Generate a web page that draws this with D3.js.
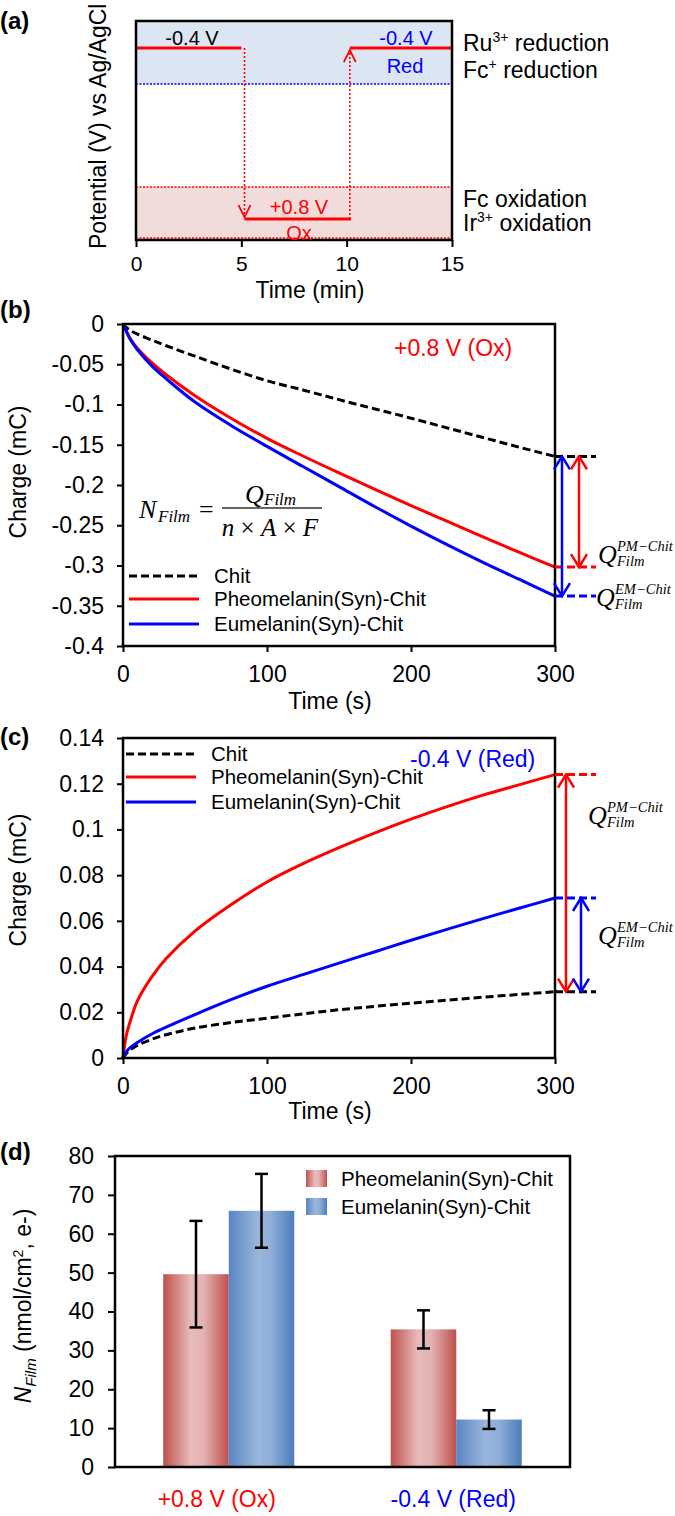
<!DOCTYPE html>
<html><head><meta charset="utf-8">
<script src="https://cdn.jsdelivr.net/npm/d3@7"></script>
<style>body{margin:0;background:#fff}</style>
</head><body>
<svg id="c" width="675" height="1516"></svg>
<script>
// ---------------- DATA ----------------
// (a) potential program
const aTimeTicks = [0, 5, 10, 15];
const aSteps = [[0, 5, -0.4], [5.15, 10.2, 0.8], [10.15, 15, -0.4]];
const aTransitions = [[5.15, -0.4, 0.8], [10.15, 0.8, -0.4]];
const aBandRed = [-0.59, -0.147];
const aBandOx = [0.575, 0.947];
const aDomain = [-0.59, 0.947];

// (b),(c) charge curves
const tSec = [0, 2, 5, 10, 20, 30, 50, 75, 100, 125, 150, 175, 200, 225, 250, 275, 300];
const bChit = [0, -0.004, -0.008, -0.0125, -0.020, -0.027, -0.040, -0.056, -0.0705, -0.082, -0.094, -0.1055, -0.117, -0.129, -0.141, -0.153, -0.1645];
const bPheo = [0, -0.008, -0.018, -0.030, -0.048, -0.063, -0.089, -0.117, -0.142, -0.164, -0.185, -0.2055, -0.2255, -0.245, -0.2645, -0.2835, -0.302];
const bEu = [0, -0.008, -0.019, -0.032, -0.052, -0.068, -0.097, -0.126, -0.152, -0.177, -0.202, -0.227, -0.251, -0.274, -0.296, -0.317, -0.338];
const cChit = [0, 0.0018, 0.0035, 0.0055, 0.0082, 0.0102, 0.0131, 0.0155, 0.0174, 0.0193, 0.0211, 0.0226, 0.024, 0.0253, 0.0266, 0.0278, 0.029];
const cPheo = [0, 0.009, 0.016, 0.025, 0.0355, 0.0435, 0.0555, 0.067, 0.077, 0.085, 0.092, 0.0985, 0.1045, 0.110, 0.115, 0.1195, 0.124];
const cEu = [0, 0.0025, 0.0045, 0.0068, 0.0105, 0.0135, 0.019, 0.0255, 0.0314, 0.0365, 0.0415, 0.0465, 0.0515, 0.0563, 0.061, 0.0655, 0.070];
const secTicks = [0, 100, 200, 300];
const bTicks = [0, -0.05, -0.1, -0.15, -0.2, -0.25, -0.3, -0.35, -0.4];
const cTicks = [0, 0.02, 0.04, 0.06, 0.08, 0.1, 0.12, 0.14];
const seriesNames = ["Chit", "Pheomelanin(Syn)-Chit", "Eumelanin(Syn)-Chit"];

// (d) bars
const dCats = ["+0.8 V (Ox)", "-0.4 V (Red)"];
const dSeries = ["Pheomelanin(Syn)-Chit", "Eumelanin(Syn)-Chit"];
const dPheo = [49.6, 35.4];
const dPheoErr = [13.7, 4.9];
const dEu = [65.9, 12.2];
const dEuErr = [9.5, 2.4];
const dTicks = [0, 10, 20, 30, 40, 50, 60, 70, 80];

// ---------------- HELPERS ----------------
const SANS = "'Liberation Sans', Arial, Helvetica, sans-serif";
const SERIF = "'Liberation Serif', 'Times New Roman', serif";
const RED = "#ff0000", BLUE = "#0000ff";
const svg = d3.select("#c");
svg.append("rect").attr("width", 675).attr("height", 1516).attr("fill", "#fff");

function txt(g, x, y, s, o = {}) {
  const t = g.append("text").attr("x", x).attr("y", y)
    .attr("font-family", o.family || SANS).attr("font-size", o.size || 20)
    .attr("fill", o.fill || "#000");
  if (s !== null) t.text(s);
  if (o.anchor) t.attr("text-anchor", o.anchor);
  if (o.weight) t.attr("font-weight", o.weight);
  if (o.style) t.attr("font-style", o.style);
  if (o.dy) t.attr("dy", o.dy);
  if (o.transform) t.attr("transform", o.transform);
  return t;
}
function chevron(g, x, y, dir, color, w = 7, h = 12, sw = 2.5) {
  g.append("path")
    .attr("d", `M${x - w},${y - dir * h}L${x},${y}L${x + w},${y - dir * h}`)
    .attr("fill", "none").attr("stroke", color).attr("stroke-width", sw);
}
function styleAxis(ax, size) {
  ax.select(".domain").remove();
  ax.selectAll(".tick line").attr("stroke", "#000").attr("stroke-width", 2);
  ax.selectAll(".tick text").attr("font-family", SANS).attr("font-size", size).attr("fill", "#000");
}
function frame(g, x0, y0, x1, y1) {
  g.append("rect").attr("x", x0).attr("y", y0).attr("width", x1 - x0).attr("height", y1 - y0)
    .attr("fill", "none").attr("stroke", "#000").attr("stroke-width", 2.5);
}
const fmt = d => (d === 0 ? "0" : String(+d.toFixed(2)));

// ---------------- PANEL (a) ----------------
const gA = svg.append("g");
const xA = d3.scaleLinear().domain([0, 15]).range([136, 452]);
const yA = d3.scaleLinear().domain(aDomain).range([21, 240]);
gA.append("rect").attr("x", xA(0)).attr("width", xA(15) - xA(0))
  .attr("y", yA(aBandRed[0])).attr("height", yA(aBandRed[1]) - yA(aBandRed[0])).attr("fill", "#dce6f2");
gA.append("rect").attr("x", xA(0)).attr("width", xA(15) - xA(0))
  .attr("y", yA(aBandOx[0])).attr("height", yA(aBandOx[1]) - yA(aBandOx[0])).attr("fill", "#f2dcdb");
gA.append("line").attr("x1", xA(0)).attr("x2", xA(15)).attr("y1", yA(aBandRed[1])).attr("y2", yA(aBandRed[1]))
  .attr("stroke", BLUE).attr("stroke-width", 1.5).attr("stroke-dasharray", "2,1.5");
[aBandOx[0], aBandOx[1]].forEach(v => {
  const yy = yA(v) - (v === aBandOx[1] ? 2 : 0);
  gA.append("line").attr("x1", xA(0)).attr("x2", xA(15)).attr("y1", yy).attr("y2", yy)
    .attr("stroke", RED).attr("stroke-width", 1.5).attr("stroke-dasharray", "2,1.5");
});
aSteps.forEach(([t0, t1, v]) => {
  gA.append("line").attr("x1", xA(t0)).attr("x2", xA(t1)).attr("y1", yA(v)).attr("y2", yA(v))
    .attr("stroke", RED).attr("stroke-width", 3);
});
aTransitions.forEach(([t, v0, v1]) => {
  const dir = v1 > v0 ? 1 : -1;
  const yEnd = yA(v1) - dir * 2;
  gA.append("line").attr("x1", xA(t)).attr("x2", xA(t)).attr("y1", yA(v0)).attr("y2", yEnd)
    .attr("stroke", RED).attr("stroke-width", 1.6).attr("stroke-dasharray", "2,2");
  chevron(gA, xA(t), yEnd, dir, RED, 6, 12, 1.8);
});
frame(gA, xA(0), yA(aDomain[0]), xA(15), yA(aDomain[1]));
const axA = gA.append("g").attr("transform", `translate(0,${yA(aDomain[1])})`)
  .call(d3.axisBottom(xA).tickValues(aTimeTicks).tickSize(7).tickPadding(9));
styleAxis(axA, 21);
txt(gA, 0, 29, "(a)", { size: 24, weight: "bold" });
txt(gA, 310, 298, "Time (min)", { size: 23, anchor: "middle" });
txt(gA, 0, 0, "Potential (V) vs Ag/AgCl", { size: 23, transform: "translate(106,249) rotate(-90)" });
txt(gA, 192, 45, "-0.4 V", { size: 20, anchor: "middle" });
txt(gA, 406, 45, "-0.4 V", { size: 20, anchor: "middle", fill: BLUE });
txt(gA, 405, 73, "Red", { size: 20, anchor: "middle", fill: BLUE });
txt(gA, 299, 214, "+0.8 V", { size: 20, anchor: "middle", fill: RED });
txt(gA, 299, 240, "Ox", { size: 20, anchor: "middle", fill: RED });
function supLabel(y, a, sup, b) {
  const t = txt(gA, 463, y, null, { size: 23 });
  t.append("tspan").text(a);
  t.append("tspan").text(sup).attr("font-size", 14).attr("dy", -9);
  t.append("tspan").text(b).attr("dy", 9);
}
supLabel(51, "Ru", "3+", " reduction");
supLabel(78, "Fc", "+", " reduction");
txt(gA, 463, 207, "Fc oxidation", { size: 23 });
supLabel(231, "Ir", "3+", " oxidation");

// ---------------- shared line panel ----------------
function linePanel(cfg) {
  const g = svg.append("g");
  const x = d3.scaleLinear().domain([0, 300]).range([123, 555]);
  const y = d3.scaleLinear().domain(cfg.domain).range([cfg.bottom, cfg.top]);
  const line = d3.line().x((d, i) => x(tSec[i])).y(d => y(d)).curve(d3.curveCatmullRom.alpha(0.5));
  const styles = [
    { c: "#000", dash: "8,4" }, { c: RED, dash: null }, { c: BLUE, dash: null }
  ];
  cfg.series.forEach((s, i) => {
    const p = g.append("path").attr("d", line(s)).attr("fill", "none")
      .attr("stroke", styles[i].c).attr("stroke-width", 3);
    if (styles[i].dash) p.attr("stroke-dasharray", styles[i].dash);
  });
  frame(g, x(0), cfg.top, x(300), cfg.bottom);
  const axX = g.append("g").attr("transform", `translate(0,${cfg.bottom})`)
    .call(d3.axisBottom(x).tickValues(secTicks).tickSize(6).tickPadding(14));
  styleAxis(axX, 23);
  const axY = g.append("g").attr("transform", `translate(${x(0)},0)`)
    .call(d3.axisLeft(y).tickValues(cfg.ticks).tickFormat(fmt).tickSize(6).tickPadding(13));
  styleAxis(axY, 23);
  cfg.legendY.forEach((ly, i) => {
    const l = g.append("line").attr("x1", cfg.legendX[0]).attr("x2", cfg.legendX[1]).attr("y1", ly).attr("y2", ly)
      .attr("stroke", styles[i].c).attr("stroke-width", 3);
    if (styles[i].dash) l.attr("stroke-dasharray", styles[i].dash);
    txt(g, cfg.legendX[2], ly, seriesNames[i], { size: 20.5, dy: "0.35em" });
  });
  cfg.series.forEach((s, i) => {
    g.append("line").attr("x1", x(300)).attr("x2", x(300) + 41).attr("y1", y(s[s.length - 1])).attr("y2", y(s[s.length - 1]))
      .attr("stroke", styles[i].c).attr("stroke-width", 3).attr("stroke-dasharray", "8,4");
  });
  cfg.arrows.forEach(a => {
    const base = cfg.series[0][cfg.series[0].length - 1];
    const s = cfg.series[a.idx];
    const end = s[s.length - 1];
    const y0 = y(base), y1 = y(end);
    const dir = y1 > y0 ? 1 : -1;
    g.append("line").attr("x1", a.x).attr("x2", a.x).attr("y1", y0).attr("y2", y1)
      .attr("stroke", styles[a.idx].c).attr("stroke-width", 2.5);
    chevron(g, a.x, y0, -dir, styles[a.idx].c, 8, 13, 2.5);
    chevron(g, a.x, y1, dir, styles[a.idx].c, 8, 13, 2.5);
  });
  cfg.qLabels.forEach(q => {
    txt(g, q.x, q.y, "Q", { family: SERIF, style: "italic", size: 26 });
    txt(g, q.x + 19, q.y - 12, q.sup, { family: SERIF, style: "italic", size: 14.5 });
    txt(g, q.x + 19, q.y + 3, "Film", { family: SERIF, style: "italic", size: 14.5 });
  });
  txt(g, 0, cfg.tagY, cfg.tag, { size: 24, weight: "bold" });
  txt(g, 330, cfg.titleY, "Time (s)", { size: 23, anchor: "middle" });
  txt(g, 0, 0, "Charge (mC)", { size: 23, anchor: "middle", transform: `translate(26,${cfg.ylabY}) rotate(-90)` });
  txt(g, cfg.note.x, cfg.note.y, cfg.note.s, { size: 23, fill: cfg.note.c });
  return { g, x, y };
}

// ---------------- PANEL (b) ----------------
const pb = linePanel({
  domain: [-0.4, 0], top: 324, bottom: 646, ticks: bTicks,
  series: [bChit, bPheo, bEu],
  legendY: [576, 599, 624], legendX: [129, 199, 214],
  arrows: [{ idx: 2, x: 562 }, { idx: 1, x: 579 }],
  qLabels: [{ x: 598, y: 563, sup: "PM\u2212Chit" }, { x: 596, y: 606, sup: "EM\u2212Chit" }],
  tag: "(b)", tagY: 318, titleY: 709, ylabY: 472,
  note: { x: 394, y: 356, s: "+0.8 V (Ox)", c: RED }
});
{
  const g = pb.g;
  const f = { family: SERIF, style: "italic" };
  txt(g, 139, 518, "N", { ...f, size: 26 });
  txt(g, 158, 522, "Film", { ...f, size: 17 });
  txt(g, 199, 518, "=", { family: SERIF, size: 26 });
  g.append("line").attr("x1", 222).attr("x2", 322).attr("y1", 508).attr("y2", 508).attr("stroke", "#333").attr("stroke-width", 1.3);
  txt(g, 245, 503, "Q", { ...f, size: 26 });
  txt(g, 264, 505, "Film", { ...f, size: 17 });
  const den = txt(g, 270, 536, null, { family: SERIF, size: 25, anchor: "middle" });
  den.append("tspan").text("n").attr("font-style", "italic");
  den.append("tspan").text(" \u00d7 ");
  den.append("tspan").text("A").attr("font-style", "italic");
  den.append("tspan").text(" \u00d7 ");
  den.append("tspan").text("F").attr("font-style", "italic");
}

// ---------------- PANEL (c) ----------------
linePanel({
  domain: [0, 0.14], top: 738, bottom: 1058, ticks: cTicks,
  series: [cChit, cPheo, cEu],
  legendY: [754, 777, 802], legendX: [126, 196, 211],
  arrows: [{ idx: 1, x: 566 }, { idx: 2, x: 581 }],
  qLabels: [{ x: 588, y: 824, sup: "PM\u2212Chit" }, { x: 598, y: 944, sup: "EM\u2212Chit" }],
  tag: "(c)", tagY: 745, titleY: 1119, ylabY: 880,
  note: { x: 410, y: 767, s: "-0.4 V (Red)", c: BLUE }
});

// ---------------- PANEL (d) ----------------
{
  const g = svg.append("g");
  const defs = svg.append("defs");
  const grads = [
    { id: "gPheo", stops: [[0, "#c0504d"], [0.42, "#e8bcbb"], [0.62, "#e3b2b1"], [1, "#c0504d"]] },
    { id: "gEu", stops: [[0, "#5885c2"], [0.45, "#9ab7dc"], [0.65, "#8eaed8"], [1, "#4a7ebb"]] }
  ];
  grads.forEach(gr => {
    const lg = defs.append("linearGradient").attr("id", gr.id).attr("x1", "0").attr("x2", "1").attr("y1", "0").attr("y2", "0");
    gr.stops.forEach(([o, c]) => lg.append("stop").attr("offset", o).attr("stop-color", c));
  });
  const x0 = d3.scaleBand().domain(dCats).range([115, 570]).paddingInner(0.424).paddingOuter(0.212);
  const x1 = d3.scaleBand().domain(dSeries).range([0, x0.bandwidth()]);
  const y = d3.scaleLinear().domain([0, 80]).range([1467, 1156]);
  const vals = [dPheo, dEu], errs = [dPheoErr, dEuErr], fills = ["url(#gPheo)", "url(#gEu)"];
  dSeries.forEach((s, si) => {
    dCats.forEach((c, ci) => {
      g.append("rect").attr("x", x0(c) + x1(s)).attr("width", x1.bandwidth())
        .attr("y", y(vals[si][ci])).attr("height", y(0) - y(vals[si][ci])).attr("fill", fills[si]);
    });
  });
  dSeries.forEach((s, si) => {
    dCats.forEach((c, ci) => {
      const cx = x0(c) + x1(s) + x1.bandwidth() / 2;
      const lo = vals[si][ci] - errs[si][ci], hi = vals[si][ci] + errs[si][ci];
      g.append("line").attr("x1", cx).attr("x2", cx).attr("y1", y(lo)).attr("y2", y(hi)).attr("stroke", "#000").attr("stroke-width", 2.5);
      [lo, hi].forEach(v => g.append("line").attr("x1", cx - 6.5).attr("x2", cx + 6.5).attr("y1", y(v)).attr("y2", y(v)).attr("stroke", "#000").attr("stroke-width", 2.5));
    });
  });
  frame(g, 115, 1156, 570, 1467);
  const axY = g.append("g").attr("transform", "translate(115,0)")
    .call(d3.axisLeft(y).tickValues(dTicks).tickSize(7).tickPadding(14));
  styleAxis(axY, 23);
  const catColors = [RED, BLUE], catShift = [-12, -3];
  dCats.forEach((c, i) => txt(g, x0(c) + x0.bandwidth() / 2 + catShift[i], 1507, c, { size: 23, anchor: "middle", fill: catColors[i] }));
  [[1170, "url(#gPheo)"], [1198, "url(#gEu)"]].forEach(([ly, f], i) => {
    g.append("rect").attr("x", 306).attr("y", ly).attr("width", 21).attr("height", 17).attr("fill", f);
    txt(g, 341, ly + 8.5, dSeries[i], { size: 20.5, dy: "0.35em" });
  });
  txt(g, 0, 1160, "(d)", { size: 24, weight: "bold" });
  const yl = txt(g, 0, 0, null, { size: 23, anchor: "middle", transform: "translate(31,1306) rotate(-90)" });
  yl.append("tspan").text("N").attr("font-style", "italic");
  yl.append("tspan").text("Film").attr("font-style", "italic").attr("font-size", 15).attr("dy", 5);
  yl.append("tspan").text(" (nmol/cm").attr("dy", -5);
  yl.append("tspan").text("2").attr("font-size", 14).attr("dy", -8);
  yl.append("tspan").text(", e-)").attr("dy", 8);
}
</script>
</body></html>
